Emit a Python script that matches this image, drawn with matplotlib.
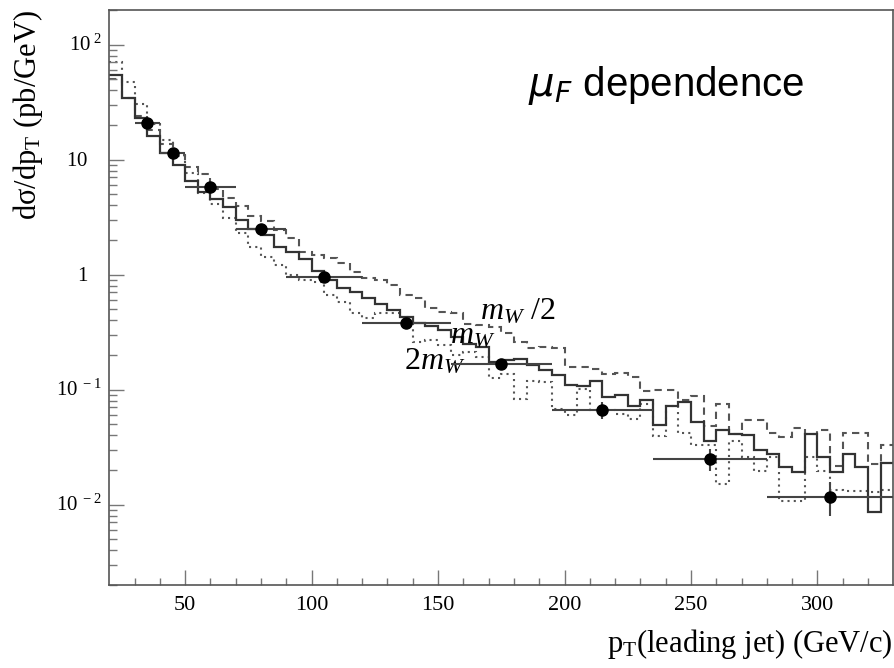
import matplotlib
matplotlib.use("Agg")
import matplotlib.pyplot as plt
import matplotlib.transforms as mtransforms
from matplotlib.ticker import FixedLocator, NullFormatter, LogLocator
import numpy as np

plt.rcParams['mathtext.fontset'] = 'custom'
plt.rcParams['mathtext.rm'] = 'Liberation Serif'
plt.rcParams['mathtext.it'] = 'Liberation Serif:italic'
plt.rcParams['mathtext.bf'] = 'Liberation Serif:bold'
plt.rcParams['font.family'] = ['Liberation Serif', 'DejaVu Serif']

# ---------------- data ----------------
bin_edges = list(range(20, 335, 5))  # 20 ... 330 GeV, 5 GeV bins

# mu_F = m_W (solid)
hist_mw = [53.9, 34.4, 23.0, 15.9, 11.4, 8.9, 6.5, 5.2, 4.5, 3.86,
           2.99, 2.48, 2.21, 1.75, 1.58, 1.36, 1.08, 0.90, 0.77, 0.70,
           0.62, 0.56, 0.49, 0.43, 0.376, 0.356, 0.329, 0.288, 0.248, 0.235,
           0.174, 0.182, 0.186, 0.163, 0.147, 0.133, 0.109, 0.107, 0.118, 0.0863,
           0.0892, 0.0715, 0.0817, 0.0489, 0.0715, 0.0780, 0.0522, 0.0361, 0.0442, 0.0413,
           0.0400, 0.0296, 0.0273, 0.0211, 0.0191, 0.0413, 0.0259, 0.0191, 0.0277, 0.0211,
           0.00857, 0.0229]

# mu_F = m_W/2 (dashed)
hist_mw_half = [50.3, 34.0, 24.0, 18.2, 13.8, 11.0, 8.6, 7.5, 5.6, 4.6,
                3.96, 3.24, 2.9, 2.45, 2.07, 1.58, 1.48, 1.39, 1.25, 1.06,
                0.93, 0.90, 0.81, 0.66, 0.62, 0.51, 0.475, 0.46, 0.37, 0.364,
                0.35, 0.31, 0.26, 0.228, 0.235, 0.228, 0.157, 0.157, 0.152, 0.138,
                0.140, 0.129, 0.097, 0.099, 0.099, 0.0817, 0.0874, 0.0479, 0.0755, 0.0413,
                0.0540, 0.0547, 0.0418, 0.0386, 0.0463, 0.0413, 0.0442, 0.0216, 0.0418, 0.0418,
                0.0226, 0.0327]

# mu_F = 2 m_W (dotted)
hist_2mw = [70.4, 47.1, 30.7, 20.6, 14.9, 10.7, 7.6, 5.1, 4.12, 3.09,
            2.29, 1.75, 1.43, 1.21, 0.99, 0.90, 0.87, 0.67, 0.58, 0.46,
            0.42, 0.46, 0.46, 0.43, 0.26, 0.27, 0.243, 0.199, 0.213, 0.193,
            0.125, 0.138, 0.083, 0.120, 0.117, 0.0683, 0.0597, 0.102, 0.066, 0.066,
            0.0618, 0.0558, 0.0755, 0.0392, 0.0715, 0.0418, 0.0327, 0.0327, 0.0151, 0.0361,
            0.0259, 0.0195, 0.0259, 0.0108, 0.0108, 0.0262, 0.0198, 0.0133, 0.0131, 0.0131,
            0.0129, 0.0133]

# measured points
pt_data = [35, 45, 60, 80, 105, 137.5, 175, 215, 257.5, 305]
xs_data = [20.9, 11.4, 5.77, 2.5, 0.96, 0.376, 0.166, 0.067, 0.0248, 0.0117]
pt_lo = [30, 40, 50, 70, 90, 120, 155, 195, 235, 280]
pt_hi = [40, 50, 70, 90, 120, 155, 195, 235, 280, 330]
err_lo = [0.5, 0.3, 0.15, 0.07, 0.04, 0.02, 0.012, 0.011, 0.005, 0.0037]
err_hi = [0.5, 0.3, 0.15, 0.07, 0.04, 0.02, 0.012, 0.011, 0.0058, 0.0039]

ytick_vals = [0.01, 0.1, 1, 10, 100]
ytick_labels = [r'$10^{\ -2}$', r'$10^{\ -1}$', r'$1$', r'$10$', r'$10^{\ 2}$']
xtick_vals = [50, 100, 150, 200, 250, 300]

# ---------------- figure ----------------
fig = plt.figure(figsize=(8.95, 6.68), dpi=100)
ax = fig.add_axes([109.3 / 895, 1 - 585 / 668, 784 / 895, 575 / 668])

ax.set_yscale('log')
ax.set_xlim(20, 330)
ax.set_ylim(0.002, 200)

ax.stairs(hist_2mw, bin_edges, baseline=None, color='#555555', lw=1.5,
          linestyle=(0, (1, 2)))
ax.stairs(hist_mw_half, bin_edges, baseline=None, color='#555555', lw=1.5,
          linestyle=(0, (3.5, 2.5)))
ax.stairs(hist_mw, bin_edges, baseline=None, color='#333333', lw=1.6)

xerr = [np.array(pt_data) - np.array(pt_lo), np.array(pt_hi) - np.array(pt_data)]
ax.errorbar(pt_data, xs_data, xerr=xerr, yerr=[err_lo, err_hi], fmt='o',
            color='black', ms=8, ecolor='#444444', elinewidth=1.5, capsize=0,
            zorder=5)

# ticks
ax.xaxis.set_major_locator(FixedLocator(xtick_vals))
ax.xaxis.set_minor_locator(FixedLocator(list(range(30, 330, 10))))
ax.yaxis.set_major_locator(FixedLocator(ytick_vals))
ax.yaxis.set_minor_locator(LogLocator(base=10, subs=np.arange(2, 10)))
ax.yaxis.set_major_formatter(NullFormatter())
ax.yaxis.set_minor_formatter(NullFormatter())
ax.tick_params(axis='both', which='both', direction='in', color='#777777',
               top=False, right=False)
ax.tick_params(axis='both', which='major', length=11, width=1.0)
ax.tick_params(axis='y', which='minor', length=6, width=1.0)
ax.tick_params(axis='x', which='minor', length=5, width=1.0)
ax.tick_params(axis='x', which='major', labelsize=16, pad=8)

for s in ax.spines.values():
    s.set_color('#555555')
    s.set_linewidth(1.2)

# y tick labels (ROOT style)
base = mtransforms.blended_transform_factory(ax.transAxes, ax.transData)
for v, lab in zip(ytick_vals, ytick_labels):
    dx = -5.3 if '^' in lab else -15.3
    tr = mtransforms.offset_copy(base, fig=fig, x=dx, y=-4.8, units='points')
    ax.text(0, v, lab, transform=tr, ha='right', va='baseline', fontsize=15)

# annotations
ax.text(166.6, 0.405, r'$m_W$ /2', fontsize=23, va='baseline', ha='left')
ax.text(154.8, 0.250, r'$m_W$', fontsize=23, va='baseline', ha='left')
ax.text(136.6, 0.150, r'$2m_W$', fontsize=23, va='baseline', ha='left')
ax.text(0.534, 0.850, r'$\mu_F$ dependence', transform=ax.transAxes,
        fontsize=29, family='Liberation Sans', math_fontfamily='dejavusans',
        va='baseline', ha='left')

fig.text(0.031, 0.985, 'dσ/dp$_{\\rm T}$ (pb/GeV)',
         rotation=90, ha='center', va='top', fontsize=22)
fig.text(0.997, 0.024, r'p$_{\rm T}$(leading jet) (GeV/c)', ha='right',
         va='baseline', fontsize=22)

fig.savefig('out.png', dpi=100)
